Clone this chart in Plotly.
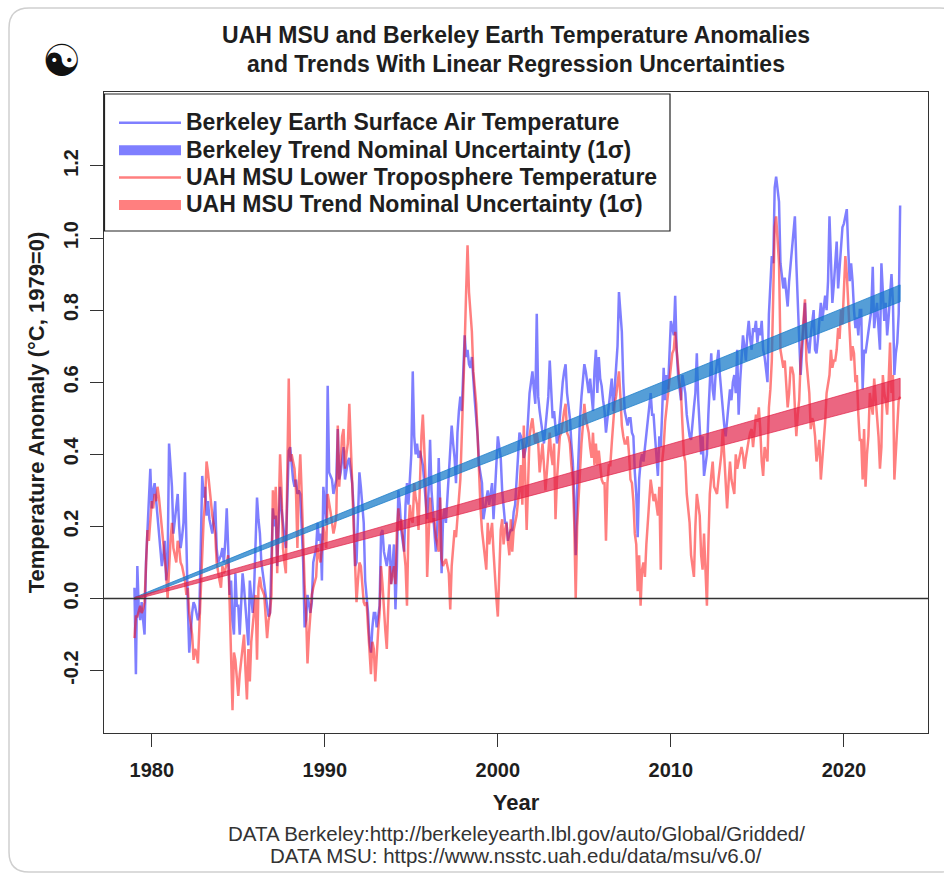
import plotly.graph_objects as go
import numpy as np

# ---------------- data (monthly anomalies, deg C, 1979=0) ----------------
start_year = 1979

berkeley = [
    0.03, -0.21, 0.09, -0.03, -0.06, -0.01, -0.06, -0.10, 0.10, 0.18, 0.24, 0.36,   # 1979
    0.25, 0.30, 0.32, 0.27, 0.23, 0.19, 0.14, 0.09, 0.12, 0.16, 0.05, 0.10,         # 1980
    0.43, 0.36, 0.31, 0.18, 0.22, 0.26, 0.29, 0.20, 0.14, 0.17, 0.21, 0.35,         # 1981
    0.10, -0.02, -0.15, -0.08, -0.04, -0.01, -0.02, -0.04, -0.06, -0.04, 0.20, 0.34,  # 1982
    0.28, 0.31, 0.23, 0.27, 0.22, 0.20, 0.18, 0.22, 0.27, 0.14, 0.10, 0.11,         # 1983
    0.12, 0.14, 0.10, 0.16, 0.25, 0.14, 0.01, 0.05, -0.06, -0.10, 0.07, -0.02,      # 1984
    -0.02, -0.10, -0.03, 0.07, 0.03, -0.02, -0.08, -0.13, 0.05, -0.01, -0.04, 0.03,  # 1985
    0.18, 0.28, 0.22, 0.18, 0.10, 0.07, 0.05, 0.01, -0.02, -0.05, -0.04, 0.10,      # 1986
    0.25, 0.20, 0.23, 0.09, 0.20, 0.31, 0.25, 0.20, 0.17, 0.14, 0.30, 0.41,         # 1987
    0.42, 0.36, 0.33, 0.31, 0.33, 0.29, 0.30, 0.29, 0.21, 0.10, -0.08, -0.06,       # 1988
    0.01, -0.02, -0.04, -0.01, 0.10, 0.12, 0.14, 0.21, 0.16, 0.18, 0.05, 0.31,      # 1989
    0.25, 0.21, 0.59, 0.35, 0.34, 0.33, 0.29, 0.31, 0.33, 0.47, 0.33, 0.35,         # 1990
    0.38, 0.42, 0.33, 0.36, 0.38, 0.39, 0.35, 0.32, 0.25, 0.09, 0.10, 0.22,         # 1991
    0.35, 0.31, 0.25, 0.21, 0.05, 0.01, -0.04, -0.12, -0.15, -0.08, -0.04, -0.04,   # 1992
    -0.08, -0.05, -0.02, 0.18, 0.19, 0.13, 0.11, 0.09, 0.12, 0.15, 0.04, 0.10,      # 1993
    0.15, -0.03, 0.09, 0.30, 0.26, 0.19, 0.16, 0.13, 0.26, 0.32, 0.26, 0.33,        # 1994
    0.40, 0.63, 0.45, 0.40, 0.43, 0.39, 0.41, 0.39, 0.37, 0.32, 0.26, 0.22,         # 1995
    0.30, 0.44, 0.30, 0.24, 0.19, 0.13, 0.20, 0.39, 0.26, 0.07, 0.22, 0.25,         # 1996
    0.21, 0.28, 0.32, 0.41, 0.48, 0.43, 0.39, 0.32, 0.46, 0.52, 0.56, 0.52,         # 1997
    0.62, 0.73, 0.67, 0.69, 0.65, 0.64, 0.67, 0.60, 0.55, 0.50, 0.45, 0.37,         # 1998
    0.35, 0.32, 0.22, 0.25, 0.28, 0.30, 0.26, 0.29, 0.32, 0.22, 0.30, 0.37,         # 1999
    0.45, 0.42, 0.39, 0.30, 0.24, 0.21, 0.21, 0.16, 0.18, 0.19, 0.19, 0.24,         # 2000
    0.26, 0.32, 0.40, 0.46, 0.45, 0.43, 0.39, 0.41, 0.43, 0.50, 0.57, 0.60,         # 2001
    0.63, 0.58, 0.54, 0.79, 0.56, 0.52, 0.48, 0.46, 0.43, 0.47, 0.50, 0.56,         # 2002
    0.66, 0.56, 0.50, 0.52, 0.46, 0.43, 0.45, 0.50, 0.57, 0.60, 0.63, 0.65,         # 2003
    0.57, 0.53, 0.50, 0.43, 0.38, 0.28, 0.12, 0.30, 0.43, 0.50, 0.56, 0.60,         # 2004
    0.65, 0.63, 0.60, 0.57, 0.61, 0.56, 0.52, 0.63, 0.69, 0.57, 0.67, 0.61,         # 2005
    0.59, 0.55, 0.52, 0.46, 0.50, 0.55, 0.57, 0.61, 0.52, 0.58, 0.65, 0.70,         # 2006
    0.85, 0.78, 0.74, 0.60, 0.52, 0.50, 0.48, 0.50, 0.50, 0.46, 0.45, 0.35,         # 2007
    0.29, 0.17, 0.33, 0.38, 0.40, 0.38, 0.42, 0.45, 0.48, 0.53, 0.57, 0.51,         # 2008
    0.51, 0.45, 0.40, 0.34, 0.45, 0.42, 0.52, 0.64, 0.55, 0.62, 0.58, 0.69,         # 2009
    0.77, 0.75, 0.73, 0.84, 0.69, 0.62, 0.58, 0.55, 0.62, 0.60, 0.57, 0.51,         # 2010
    0.48, 0.45, 0.44, 0.50, 0.53, 0.57, 0.68, 0.55, 0.49, 0.40, 0.45, 0.34,         # 2011
    0.37, 0.40, 0.51, 0.60, 0.68, 0.58, 0.55, 0.62, 0.66, 0.69, 0.62, 0.57,         # 2012
    0.51, 0.48, 0.45, 0.50, 0.53, 0.58, 0.55, 0.60, 0.62, 0.57, 0.69, 0.51,         # 2013
    0.60, 0.68, 0.73, 0.70, 0.66, 0.73, 0.77, 0.72, 0.69, 0.75, 0.74, 0.77,         # 2014
    0.71, 0.75, 0.73, 0.77, 0.69, 0.67, 0.64, 0.60, 0.79, 0.88, 0.95, 0.93,         # 2015
    1.14, 1.17, 1.13, 1.10, 0.93, 0.90, 0.86, 0.89, 0.84, 0.81, 0.88, 0.93,         # 2016
    0.97, 1.01, 1.06, 0.93, 0.79, 0.72, 0.62, 0.69, 0.75, 0.82, 0.73, 0.70,         # 2017
    0.68, 0.73, 0.77, 0.80, 0.69, 0.68, 0.72, 0.77, 0.82, 0.77, 0.80, 0.84,         # 2018
    0.80, 0.88, 1.06, 0.93, 0.82, 0.87, 0.92, 0.99, 0.86, 0.92, 0.95, 1.03,         # 2019
    1.04, 1.06, 1.08, 0.97, 0.88, 0.93, 0.88, 0.80, 0.75, 0.78, 0.73, 0.80,         # 2020
    0.80, 0.58, 0.69, 0.68, 0.71, 0.73, 0.77, 0.80, 0.92, 0.75, 0.79, 0.82,         # 2021
    0.75, 0.69, 0.93, 0.85, 0.77, 0.82, 0.73, 0.78, 0.84, 0.90, 0.82, 0.62,         # 2022
    0.68, 0.71, 0.79, 1.09,                                                         # 2023
]

uah_msu = [
    -0.11, -0.05, -0.05, -0.03, -0.02, -0.04, -0.03, -0.01, 0.10, 0.19, 0.16, 0.22,  # 1979
    0.27, 0.25, 0.29, 0.27, 0.31, 0.28, 0.24, 0.18, 0.14, 0.10, 0.07, 0.00,          # 1980
    0.10, 0.16, 0.21, 0.14, 0.12, 0.10, 0.16, 0.14, 0.10, 0.09, 0.07, 0.05,          # 1981
    0.01, 0.03, -0.04, -0.07, -0.10, -0.17, -0.14, -0.15, -0.18, -0.08, 0.01, 0.14,  # 1982
    0.22, 0.27, 0.38, 0.35, 0.30, 0.27, 0.23, 0.21, 0.18, 0.10, 0.07, 0.05,          # 1983
    0.03, 0.09, 0.07, 0.08, 0.10, 0.12, -0.01, -0.14, -0.31, -0.15, -0.17, -0.22,    # 1984
    -0.27, -0.21, -0.17, -0.14, -0.10, -0.20, -0.28, -0.14, -0.23, -0.12, -0.08, -0.04,  # 1985
    0.01, -0.17, 0.03, 0.06, 0.03, 0.02, 0.01, -0.05, -0.11, -0.06, -0.04, 0.01,     # 1986
    0.30, 0.22, 0.31, 0.07, 0.25, 0.40, 0.30, 0.14, 0.10, 0.07, 0.35, 0.61,          # 1987
    0.38, 0.40, 0.38, 0.36, 0.30, 0.14, 0.32, 0.40, 0.29, 0.14, 0.04, -0.04,         # 1988
    -0.18, -0.10, -0.04, 0.01, 0.03, 0.05, 0.06, 0.14, 0.12, 0.10, 0.14, 0.20,       # 1989
    0.17, 0.14, 0.29, 0.27, 0.24, 0.21, 0.18, 0.20, 0.23, 0.48, 0.31, 0.38,          # 1990
    0.45, 0.47, 0.36, 0.40, 0.43, 0.54, 0.40, 0.32, 0.20, 0.10, -0.01, 0.05,         # 1991
    0.10, 0.09, 0.04, -0.01, -0.02, -0.01, -0.08, -0.15, -0.21, -0.12, -0.14, -0.23,  # 1992
    -0.14, -0.09, -0.04, 0.09, 0.04, -0.04, -0.09, -0.14, 0.00, 0.09, 0.04, 0.06,    # 1993
    0.09, 0.04, 0.19, 0.25, 0.19, 0.22, 0.18, 0.15, 0.09, -0.02, 0.19, 0.26,         # 1994
    0.22, 0.21, 0.32, 0.28, 0.26, 0.19, 0.35, 0.45, 0.51, 0.41, 0.32, 0.06,          # 1995
    0.18, 0.28, 0.21, 0.22, 0.22, 0.17, 0.15, 0.13, 0.28, 0.11, 0.09, 0.10,          # 1996
    0.11, 0.09, 0.07, -0.03, 0.09, 0.14, 0.19, 0.17, 0.22, 0.28, 0.33, 0.45,         # 1997
    0.56, 0.70, 0.85, 0.98, 0.85, 0.80, 0.74, 0.63, 0.58, 0.54, 0.45, 0.32,          # 1998
    0.25, 0.19, 0.15, 0.12, 0.08, 0.21, 0.15, 0.18, 0.21, 0.13, 0.05, 0.00,          # 1999
    -0.05, 0.10, 0.19, 0.22, 0.15, 0.19, 0.21, 0.16, 0.12, 0.22, 0.13, 0.19,         # 2000
    0.21, 0.23, 0.27, 0.30, 0.37, 0.26, 0.48, 0.30, 0.19, 0.32, 0.45, 0.48,          # 2001
    0.50, 0.46, 0.43, 0.46, 0.43, 0.35, 0.39, 0.43, 0.37, 0.30, 0.35, 0.41,          # 2002
    0.46, 0.40, 0.37, 0.43, 0.22, 0.33, 0.40, 0.45, 0.46, 0.50, 0.52, 0.54,          # 2003
    0.46, 0.45, 0.43, 0.37, 0.33, 0.21, 0.00, 0.20, 0.28, 0.37, 0.43, 0.48,          # 2004
    0.54, 0.50, 0.48, 0.46, 0.42, 0.39, 0.46, 0.37, 0.43, 0.37, 0.41, 0.37,          # 2005
    0.33, 0.32, 0.32, 0.16, 0.32, 0.37, 0.37, 0.43, 0.50, 0.54, 0.56, 0.60,          # 2006
    0.63, 0.56, 0.48, 0.45, 0.43, 0.43, 0.45, 0.40, 0.33, 0.32, 0.27, 0.18,          # 2007
    0.15, 0.02, 0.12, -0.02, 0.08, 0.10, 0.06, 0.15, 0.21, 0.27, 0.33, 0.30,         # 2008
    0.27, 0.29, 0.26, 0.23, 0.31, 0.08, 0.38, 0.42, 0.49, 0.53, 0.58, 0.62,          # 2009
    0.66, 0.68, 0.69, 0.74, 0.69, 0.64, 0.60, 0.57, 0.47, 0.40, 0.38, 0.29,          # 2010
    0.25, 0.21, 0.12, 0.08, 0.06, 0.20, 0.29, 0.26, 0.23, 0.12, 0.08, 0.18,          # 2011
    0.10, -0.02, 0.15, 0.29, 0.34, 0.38, 0.31, 0.30, 0.29, 0.33, 0.37, 0.40,         # 2012
    0.47, 0.40, 0.33, 0.25, 0.32, 0.38, 0.33, 0.31, 0.29, 0.40, 0.36, 0.38,          # 2013
    0.40, 0.42, 0.40, 0.36, 0.39, 0.42, 0.44, 0.46, 0.47, 0.42, 0.48, 0.51,          # 2014
    0.49, 0.53, 0.47, 0.38, 0.34, 0.42, 0.40, 0.38, 0.53, 0.58, 0.66, 0.82,          # 2015
    1.03, 1.06, 0.98, 0.93, 0.69, 0.66, 0.64, 0.66, 0.60, 0.53, 0.57, 0.64,          # 2016
    0.64, 0.62, 0.53, 0.45, 0.51, 0.55, 0.66, 0.71, 0.76, 0.83, 0.66, 0.60,          # 2017
    0.57, 0.47, 0.50, 0.49, 0.45, 0.38, 0.41, 0.44, 0.33, 0.38, 0.42, 0.49,          # 2018
    0.57, 0.60, 0.62, 0.69, 0.64, 0.66, 0.66, 0.69, 0.75, 0.72, 0.80, 0.76,          # 2019
    0.85, 0.95, 0.90, 0.82, 0.75, 0.66, 0.70, 0.68, 0.60, 0.62, 0.51, 0.44,          # 2020
    0.44, 0.33, 0.47, 0.31, 0.40, 0.45, 0.57, 0.54, 0.51, 0.61, 0.56, 0.51,          # 2021
    0.45, 0.36, 0.42, 0.62, 0.57, 0.55, 0.51, 0.60, 0.71, 0.57, 0.62, 0.33,          # 2022
    0.40, 0.47, 0.55, 0.56,                                                          # 2023
]

# Linear-trend uncertainty bands (1 sigma), read at the start and end years
trend_years = [1979.0, 2023.25]
berkeley_trend_low = [-0.003, 0.823]
berkeley_trend_high = [0.003, 0.870]
uah_trend_low = [-0.003, 0.554]
uah_trend_high = [0.003, 0.611]

x_tick_values = [1980, 1990, 2000, 2010, 2020]
y_tick_values = [-0.2, 0.0, 0.2, 0.4, 0.6, 0.8, 1.0, 1.2]
y_tick_labels = ["-0.2", "0.0", "0.2", "0.4", "0.6", "0.8", "1.0", "1.2"]

series_names = [
    "Berkeley Earth Surface Air Temperature",
    "Berkeley Trend Nominal Uncertainty (1σ)",
    "UAH MSU Lower Troposphere Temperature",
    "UAH MSU Trend Nominal Uncertainty (1σ)",
]

# ---------------- figure ----------------
FONT = "Arial, Liberation Sans, Helvetica, sans-serif"
TXT = "#1e1e1e"

months = np.arange(len(berkeley))
years = start_year + months / 12.0

BLUE_LINE = "rgba(0,0,255,0.5)"
RED_LINE = "rgba(255,0,0,0.5)"
BLUE_BAND = "rgba(20,120,200,0.72)"
RED_BAND = "rgba(225,30,70,0.68)"


def legend_label(s):
    return f'<span style="font-size:23px">{s}</span>'


fig = go.Figure()

fig.add_trace(go.Scatter(
    x=years, y=berkeley, mode="lines",
    line=dict(color=BLUE_LINE, width=2.5),
    name=legend_label(series_names[0])))
fig.add_trace(go.Scatter(
    x=[None], y=[None], mode="lines",
    line=dict(color=BLUE_LINE, width=14),
    name=legend_label(series_names[1])))
fig.add_trace(go.Scatter(
    x=years, y=uah_msu, mode="lines",
    line=dict(color=RED_LINE, width=2.5),
    name=legend_label(series_names[2])))
fig.add_trace(go.Scatter(
    x=[None], y=[None], mode="lines",
    line=dict(color=RED_LINE, width=14),
    name=legend_label(series_names[3])))

fig.add_trace(go.Scatter(
    x=trend_years + trend_years[::-1],
    y=berkeley_trend_high + berkeley_trend_low[::-1],
    mode="lines", fill="toself", fillcolor=BLUE_BAND,
    line=dict(color=BLUE_BAND, width=1), showlegend=False, hoverinfo="skip"))
fig.add_trace(go.Scatter(
    x=trend_years + trend_years[::-1],
    y=uah_trend_high + uah_trend_low[::-1],
    mode="lines", fill="toself", fillcolor=RED_BAND,
    line=dict(color=RED_BAND, width=1), showlegend=False, hoverinfo="skip"))

# plot-area geometry in px (for non-data decorations)
L, R, T, B = 104, 16, 92, 146
W, H = 944, 879
pw, ph = W - L - R, H - T - B


def px_x(px):
    return (px - L) / pw


def px_y(py):
    return (H - B - py) / ph


# rounded card border around the whole picture
x0, x1 = px_x(9), px_x(960)
y0, y1 = px_y(872), px_y(8)
rx, ry = 20 / pw, 20 / ph
card = (f"M {x0+rx},{y1} L {x1-rx},{y1} Q {x1},{y1} {x1},{y1-ry} L {x1},{y0+ry} "
        f"Q {x1},{y0} {x1-rx},{y0} L {x0+rx},{y0} Q {x0},{y0} {x0},{y0+ry} "
        f"L {x0},{y1-ry} Q {x0},{y1} {x0+rx},{y1} Z")

fig.update_layout(
    width=W, height=H,
    margin=dict(l=L, r=R, t=T, b=B, autoexpand=False),
    paper_bgcolor="white", plot_bgcolor="white",
    font=dict(family=FONT, color=TXT),
    title=dict(
        text="UAH MSU and Berkeley Earth Temperature Anomalies<br>and Trends With Linear Regression Uncertainties",
        x=0.5, xref="paper", xanchor="center",
        y=1 - 42.5 / H, yref="container", yanchor="middle",
        font=dict(size=23, family=FONT, weight="bold", color=TXT)),
    xaxis=dict(
        range=[1977.24, 2024.86], tickvals=x_tick_values,
        ticks="outside", ticklen=13, tickwidth=1, tickcolor="#333",
        showline=True, mirror=True, linecolor="#333", linewidth=1.2,
        showgrid=False, zeroline=False, ticklabelstandoff=6,
        tickfont=dict(size=20, family=FONT, weight="bold", color=TXT),
        title=dict(text="Year", standoff=14,
                   font=dict(size=22, family=FONT, weight="bold", color=TXT))),
    yaxis=dict(
        range=[-0.373, 1.405], tickvals=y_tick_values, ticktext=y_tick_labels,
        tickangle=-90,
        ticks="outside", ticklen=13, tickwidth=1, tickcolor="#333",
        showline=True, mirror=True, linecolor="#333", linewidth=1.2,
        showgrid=False, zeroline=False, ticklabelstandoff=4,
        tickfont=dict(size=20, family=FONT, weight="bold", color=TXT),
        title=dict(text="Temperature Anomaly (°C, 1979=0)", standoff=9,
                   font=dict(size=22, family=FONT, weight="bold", color=TXT))),
    legend=dict(
        x=px_x(114), y=px_y(104), xanchor="left", yanchor="top",
        bgcolor="rgba(0,0,0,0)", borderwidth=0,
        font=dict(size=18.8, family=FONT, weight="bold", color=TXT),
        itemwidth=62, tracegroupgap=0, traceorder="normal"),
    shapes=[
        dict(type="line", xref="paper", yref="y", x0=0, x1=1, y0=0, y1=0,
             line=dict(color="#333", width=1.6), layer="above"),
        dict(type="rect", xref="paper", yref="paper",
             x0=px_x(104.5), x1=px_x(670), y0=px_y(231), y1=px_y(94),
             fillcolor="white", line=dict(color="#222", width=1.2), layer="above"),
        dict(type="path", xref="paper", yref="paper", path=card,
             line=dict(color="#cfcfcf", width=1.5), layer="below"),
    ],
    annotations=[
        dict(text="DATA Berkeley:http://berkeleyearth.lbl.gov/auto/Global/Gridded/",
             x=0.5, y=px_y(833), xref="paper", yref="paper",
             xanchor="center", yanchor="middle", showarrow=False,
             font=dict(size=20.5, family=FONT, color="#333")),
        dict(text="DATA MSU: https://www.nsstc.uah.edu/data/msu/v6.0/",
             x=0.5, y=px_y(855), xref="paper", yref="paper",
             xanchor="center", yanchor="middle", showarrow=False,
             font=dict(size=20.5, family=FONT, color="#333")),
        dict(text="☯", x=px_x(61), y=px_y(60), xref="paper", yref="paper",
             xanchor="center", yanchor="middle", showarrow=False,
             font=dict(size=44, family="DejaVu Sans", color="#111")),
    ],
)

fig.write_html("out.html", config={"displayModeBar": False},
               post_script="document.body.style.margin='0';")
